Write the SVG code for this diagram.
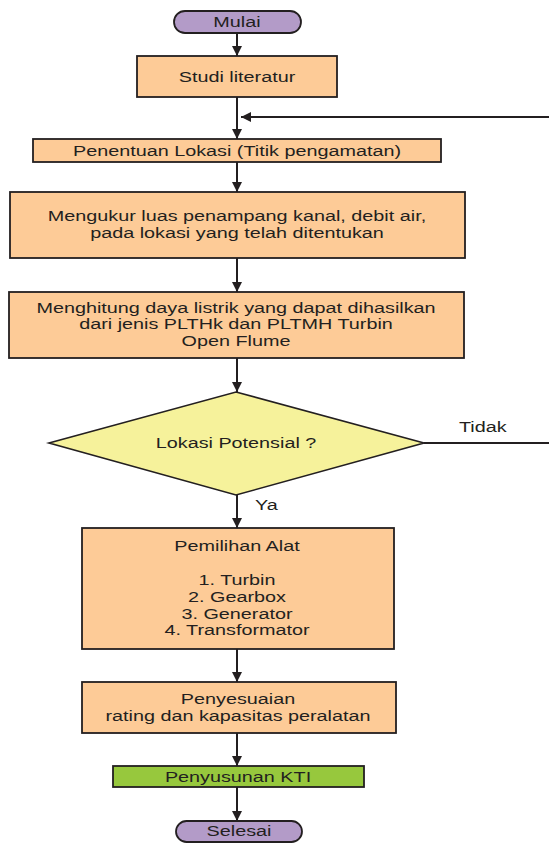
<svg xmlns="http://www.w3.org/2000/svg" width="549" height="843" viewBox="0 0 549 843">
<style>
.box{fill:#FDCB97;stroke:#231F20;stroke-width:1.8}
.dia{fill:#F6F29B;stroke:#231F20;stroke-width:1.6}
.grn{fill:#97C83D;stroke:#231F20;stroke-width:1.8}
.pill{fill:#B39BC8;stroke:#231F20;stroke-width:1.8}
.t{font-family:"Liberation Sans",Arial,sans-serif;font-size:15px;fill:#231F20;text-anchor:middle}
.l{font-family:"Liberation Sans",Arial,sans-serif;font-size:15px;fill:#231F20;text-anchor:start}
.c{fill:none;stroke:#231F20;stroke-width:2}
</style>
<defs>
<marker id="ah" viewBox="0 0 10 10" refX="10" refY="5" markerWidth="10" markerHeight="10" markerUnits="userSpaceOnUse" orient="auto">
<path d="M0,0 L10,5 L0,10 Z" fill="#231F20"/>
</marker>
</defs>
<g id="connectors">
<path class="c" d="M237,33 V56" marker-end="url(#ah)"/>
<path class="c" d="M237,97 V139" marker-end="url(#ah)"/>
<path class="c" d="M237,162 V192" marker-end="url(#ah)"/>
<path class="c" d="M237,258 V292" marker-end="url(#ah)"/>
<path class="c" d="M237,358 V392" marker-end="url(#ah)"/>
<path class="c" d="M237,495 V528" marker-end="url(#ah)"/>
<path class="c" d="M237,649 V682" marker-end="url(#ah)"/>
<path class="c" d="M237,733 V766" marker-end="url(#ah)"/>
<path class="c" d="M237,787 V821" marker-end="url(#ah)"/>
<path class="c" d="M424,443 H556 V117 H241" marker-end="url(#ah)"/>
<text class="l" transform="translate(459,0) scale(1.32,1)" x="0" y="432">Tidak</text>
<text class="l" transform="translate(255,0) scale(1.32,1)" x="0" y="510">Ya</text>
</g>
<g id="mulai">
<rect class="pill" x="174" y="11" width="127" height="22" rx="11"/>
<text class="t" transform="translate(237,0) scale(1.32,1)" x="0" y="27">Mulai</text>
</g>
<g id="studi">
<rect class="box" x="137" y="56" width="200" height="41"/>
<text class="t" transform="translate(237,0) scale(1.32,1)" x="0" y="82">Studi literatur</text>
</g>
<g id="penentuan">
<rect class="box" x="33" y="139" width="408" height="23"/>
<text class="t" transform="translate(237,0) scale(1.32,1)" x="0" y="156">Penentuan Lokasi (Titik pengamatan)</text>
</g>
<g id="mengukur">
<rect class="box" x="10" y="192" width="455" height="66"/>
<text class="t" transform="translate(237,0) scale(1.32,1)"><tspan x="0" y="221">Mengukur luas penampang kanal, debit air,</tspan><tspan x="0" y="238">pada lokasi yang telah ditentukan</tspan></text>
</g>
<g id="menghitung">
<rect class="box" x="9" y="292" width="455" height="66"/>
<text class="t" transform="translate(236,0) scale(1.32,1)"><tspan x="0" y="313">Menghitung daya listrik yang dapat dihasilkan</tspan><tspan x="0" y="329">dari jenis PLTHk dan PLTMH Turbin</tspan><tspan x="0" y="346">Open Flume</tspan></text>
</g>
<g id="lokasi-potensial">
<polygon class="dia" points="236,392 424,443 236,495 49,443"/>
<text class="t" transform="translate(236,0) scale(1.32,1)" x="0" y="448">Lokasi Potensial ?</text>
</g>
<g id="pemilihan">
<rect class="box" x="82" y="528" width="312" height="121"/>
<text class="t" transform="translate(237,0) scale(1.32,1)"><tspan x="0" y="551">Pemilihan Alat</tspan><tspan x="0" y="585">1. Turbin</tspan><tspan x="0" y="602">2. Gearbox</tspan><tspan x="0" y="619">3. Generator</tspan><tspan x="0" y="635">4. Transformator</tspan></text>
</g>
<g id="penyesuaian">
<rect class="box" x="82" y="682" width="314" height="51"/>
<text class="t" transform="translate(238,0) scale(1.32,1)"><tspan x="0" y="704">Penyesuaian</tspan><tspan x="0" y="721">rating dan kapasitas peralatan</tspan></text>
</g>
<g id="penyusunan">
<rect class="grn" x="113" y="766" width="251" height="21"/>
<text class="t" transform="translate(238,0) scale(1.32,1)" x="0" y="782">Penyusunan KTI</text>
</g>
<g id="selesai">
<rect class="pill" x="176" y="821" width="126" height="21" rx="10.5"/>
<text class="t" transform="translate(239,0) scale(1.32,1)" x="0" y="836">Selesai</text>
</g>
</svg>
